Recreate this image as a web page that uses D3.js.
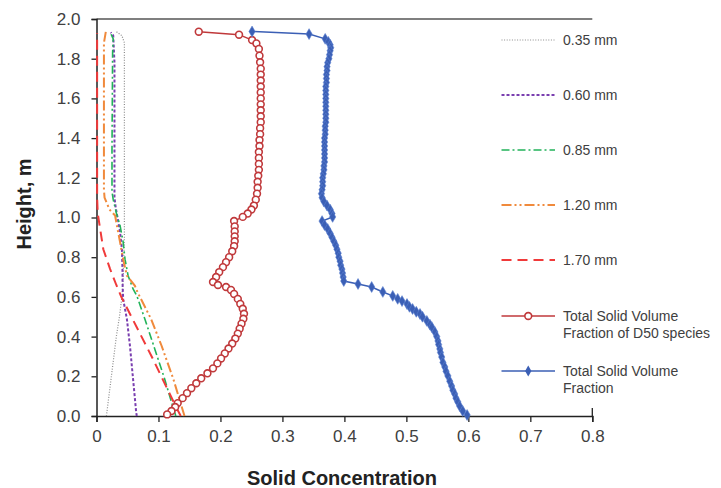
<!DOCTYPE html>
<html>
<head>
<meta charset="utf-8">
<script src="https://cdn.jsdelivr.net/npm/d3@7"></script>
<style>
  html, body { margin: 0; padding: 0; background: #fff; }
  svg { display: block; font-family: "Liberation Sans", Arial, sans-serif; }
</style>
</head>
<body>
<svg id="chart" width="721" height="488"></svg>
<script>
// Size-fraction profiles: height (m) and solid concentration
const h035 = [0.0, 0.1, 0.2, 0.3, 0.4, 0.5, 0.6, 0.7, 0.8, 0.9, 1.0, 1.4, 1.88, 1.916, 1.936];
const c035 = [0.016, 0.020, 0.024, 0.028, 0.032, 0.037, 0.041, 0.043, 0.044, 0.045, 0.045, 0.045, 0.045, 0.041, 0.032];

const h060 = [0.0, 0.02, 0.186, 0.353, 0.489, 0.589, 0.675, 0.725, 0.841, 0.927, 0.982, 1.05, 1.1, 1.33, 1.78, 1.916, 1.933];
const c060 = [0.065, 0.064, 0.059, 0.054, 0.049, 0.043, 0.042, 0.042, 0.041, 0.038, 0.035, 0.031, 0.029, 0.029, 0.029, 0.027, 0.023];

const h085 = [0.0, 0.07, 0.186, 0.338, 0.489, 0.606, 0.64, 0.707, 0.79, 0.876, 0.96, 1.01, 1.09, 1.13, 1.34, 1.83, 1.90, 1.933];
const c085 = [0.128, 0.121, 0.110, 0.094, 0.078, 0.065, 0.059, 0.051, 0.046, 0.043, 0.038, 0.033, 0.027, 0.025, 0.025, 0.026, 0.027, 0.022];

const h120 = [0.0, 0.186, 0.354, 0.489, 0.625, 0.656, 0.707, 0.79, 0.876, 0.958, 1.01, 1.04, 1.10, 1.14, 1.88, 1.935];
const c120 = [0.142, 0.124, 0.105, 0.088, 0.066, 0.062, 0.049, 0.043, 0.038, 0.033, 0.030, 0.021, 0.013, 0.012, 0.012, 0.015];

const h170 = [0.0, 0.035, 0.3, 0.6, 0.66, 0.74, 0.84, 0.94, 1.02, 1.1, 1.5, 1.93];
const c170 = [0.136, 0.130, 0.089, 0.040, 0.032, 0.022, 0.011, 0.006, 0.002, 0.001, 0.001, 0.001];

// Total solid volume fraction of D50 species
const hD50 = [1.936, 1.921, 1.894, 1.877, 1.849, 1.815, 1.782, 1.75, 1.72, 1.69, 1.66, 1.63, 1.60, 1.57, 1.54, 1.51, 1.48, 1.45, 1.42, 1.39, 1.36, 1.33, 1.30, 1.27, 1.24, 1.21, 1.18, 1.15, 1.12, 1.09, 1.06, 1.04, 1.02, 1.003, 0.982, 0.955, 0.93, 0.905, 0.88, 0.856, 0.83, 0.80, 0.775, 0.75, 0.725, 0.70, 0.675, 0.66, 0.65, 0.635, 0.615, 0.59, 0.565, 0.54, 0.515, 0.49, 0.465, 0.44, 0.415, 0.39, 0.365, 0.34, 0.315, 0.29, 0.265, 0.24, 0.215, 0.19, 0.165, 0.14, 0.115, 0.09, 0.065, 0.045, 0.025, 0.008];
const cD50 = [0.165, 0.230, 0.251, 0.258, 0.262, 0.263, 0.264, 0.265, 0.265, 0.265, 0.265, 0.265, 0.265, 0.265, 0.265, 0.265, 0.265, 0.264, 0.264, 0.263, 0.263, 0.262, 0.262, 0.262, 0.262, 0.261, 0.260, 0.260, 0.259, 0.257, 0.254, 0.250, 0.244, 0.236, 0.222, 0.223, 0.223, 0.223, 0.223, 0.222, 0.219, 0.214, 0.209, 0.204, 0.198, 0.193, 0.188, 0.196, 0.209, 0.217, 0.222, 0.228, 0.232, 0.236, 0.238, 0.237, 0.234, 0.231, 0.228, 0.224, 0.219, 0.213, 0.207, 0.201, 0.195, 0.188, 0.179, 0.169, 0.161, 0.153, 0.146, 0.139, 0.131, 0.127, 0.121, 0.114];

// Total solid volume fraction
const hTot = [1.937, 1.924, 1.90, 1.885, 1.87, 1.855, 1.84, 1.82, 1.80, 1.78, 1.76, 1.74, 1.72, 1.70, 1.68, 1.66, 1.64, 1.62, 1.60, 1.58, 1.56, 1.54, 1.52, 1.50, 1.48, 1.46, 1.44, 1.42, 1.40, 1.38, 1.36, 1.34, 1.32, 1.30, 1.28, 1.26, 1.24, 1.22, 1.20, 1.18, 1.16, 1.14, 1.12, 1.10, 1.08, 1.06, 1.04, 1.02, 1.003, 0.982, 0.962, 0.942, 0.92, 0.90, 0.88, 0.86, 0.84, 0.82, 0.80, 0.78, 0.76, 0.74, 0.72, 0.70, 0.68, 0.665, 0.65, 0.625, 0.605, 0.59, 0.579, 0.564, 0.55, 0.539, 0.525, 0.514, 0.50, 0.479, 0.46, 0.448, 0.423, 0.40, 0.378, 0.36, 0.338, 0.32, 0.297, 0.27, 0.247, 0.225, 0.202, 0.175, 0.151, 0.13, 0.111, 0.09, 0.071, 0.05, 0.025, 0.005];
const cTot = [0.251, 0.343, 0.369, 0.374, 0.377, 0.378, 0.377, 0.376, 0.375, 0.373, 0.372, 0.372, 0.371, 0.371, 0.371, 0.370, 0.370, 0.370, 0.370, 0.370, 0.370, 0.370, 0.370, 0.370, 0.370, 0.369, 0.369, 0.369, 0.368, 0.368, 0.368, 0.368, 0.368, 0.368, 0.368, 0.367, 0.367, 0.366, 0.365, 0.365, 0.365, 0.364, 0.363, 0.364, 0.367, 0.372, 0.377, 0.380, 0.381, 0.364, 0.368, 0.373, 0.377, 0.380, 0.383, 0.386, 0.388, 0.390, 0.391, 0.393, 0.394, 0.396, 0.397, 0.398, 0.399, 0.422, 0.444, 0.462, 0.478, 0.486, 0.493, 0.501, 0.505, 0.510, 0.516, 0.522, 0.526, 0.533, 0.538, 0.541, 0.546, 0.549, 0.551, 0.552, 0.554, 0.555, 0.557, 0.559, 0.562, 0.564, 0.567, 0.570, 0.573, 0.575, 0.578, 0.580, 0.583, 0.586, 0.591, 0.598];

const xTicks = [0, 0.1, 0.2, 0.3, 0.4, 0.5, 0.6, 0.7, 0.8];
const yTicks = [0.0, 0.2, 0.4, 0.6, 0.8, 1.0, 1.2, 1.4, 1.6, 1.8, 2.0];

const fractions = [
  { name: "0.35 mm", h: h035, c: c035, color: "#8c8c8c", width: 1.2, dash: "1,1.6" },
  { name: "0.60 mm", h: h060, c: c060, color: "#7a3fb0", width: 2, dash: "3,2" },
  { name: "0.85 mm", h: h085, c: c085, color: "#22b35a", width: 1.6, dash: "8,3,2,3" },
  { name: "1.20 mm", h: h120, c: c120, color: "#f08a3c", width: 2, dash: "10,3,2,3,2,3" },
  { name: "1.70 mm", h: h170, c: c170, color: "#f03a3a", width: 2, dash: "10,6" }
];

const svg = d3.select("#chart");
const x = d3.scaleLinear().domain([0, 0.8]).range([96.5, 592.3]);
const y = d3.scaleLinear().domain([0, 2]).range([416, 19]);

const pts = (hs, cs) => hs.map((h, i) => [cs[i], h]);
const line = d3.line().x(d => x(d[0])).y(d => y(d[1]));

// top frame line
svg.append("line")
  .attr("x1", x(0)).attr("x2", x(0.8))
  .attr("y1", y(2)).attr("y2", y(2))
  .attr("stroke", "#555").attr("stroke-width", 1.5);

// axes
const yAxis = svg.append("g")
  .attr("transform", `translate(${x(0)},0)`)
  .call(d3.axisLeft(y).tickValues(yTicks).tickFormat(d3.format(".1f")).tickSize(5).tickPadding(11));
const xAxis = svg.append("g")
  .attr("transform", `translate(0,${y(0)})`)
  .call(d3.axisBottom(x).tickValues(xTicks).tickFormat(d => d === 0 ? "0" : d3.format(".1f")(d)).tickSize(6).tickPadding(8));
[yAxis, xAxis].forEach(g => {
  g.select(".domain").attr("stroke", "#222").attr("stroke-width", 1.5);
  g.selectAll(".tick line").attr("stroke", "#222").attr("stroke-width", 1.3);
  g.selectAll(".tick text").attr("fill", "#404040").attr("font-size", 17)
    .attr("font-family", "Liberation Sans, Arial, sans-serif");
});
// closing tick at the end of the x axis crosses the axis line
svg.append("line")
  .attr("x1", x(0.8)).attr("x2", x(0.8))
  .attr("y1", y(0) - 8).attr("y2", y(0))
  .attr("stroke", "#222").attr("stroke-width", 1.3);

// axis titles
svg.append("text")
  .attr("x", 342).attr("y", 485)
  .attr("text-anchor", "middle")
  .attr("font-weight", "bold").attr("font-size", 20).attr("fill", "#222")
  .text("Solid Concentration");
svg.append("text")
  .attr("transform", "translate(31,204) rotate(-90)")
  .attr("text-anchor", "middle")
  .attr("font-weight", "bold").attr("font-size", 20).attr("fill", "#222")
  .text("Height, m");

// size-fraction lines
fractions.forEach(f => {
  svg.append("path")
    .datum(pts(f.h, f.c))
    .attr("d", line)
    .attr("fill", "none")
    .attr("stroke", f.color)
    .attr("stroke-width", f.width)
    .attr("stroke-dasharray", f.dash);
});

// D50 series
const redColor = "#c0393b";
const d50 = pts(hD50, cD50);
svg.append("path").datum(d50).attr("d", line)
  .attr("fill", "none").attr("stroke", redColor).attr("stroke-width", 1.5);
svg.append("g").selectAll("circle").data(d50).join("circle")
  .attr("cx", d => x(d[0])).attr("cy", d => y(d[1])).attr("r", 3.4)
  .attr("fill", "#fff").attr("stroke", redColor).attr("stroke-width", 1.6);

// total series
const blueColor = "#3b5fb5";
const tot = pts(hTot, cTot);
const diamond = d3.symbol().type(d3.symbolDiamond).size(34);
svg.append("path").datum(tot).attr("d", line)
  .attr("fill", "none").attr("stroke", blueColor).attr("stroke-width", 1.5);
svg.append("g").selectAll("path").data(tot).join("path")
  .attr("transform", d => `translate(${x(d[0])},${y(d[1])})`)
  .attr("d", diamond)
  .attr("fill", blueColor).attr("stroke", "#5b7fd0").attr("stroke-width", 0.6);

// legend
const legend = svg.append("g").attr("font-size", 14).attr("fill", "#404040");
const lx1 = 501.5, lx2 = 555, tx = 563;
fractions.forEach((f, i) => {
  const ly = 40 + i * 55;
  legend.append("line").attr("x1", lx1).attr("x2", lx2).attr("y1", ly).attr("y2", ly)
    .attr("stroke", f.color).attr("stroke-width", f.width).attr("stroke-dasharray", f.dash);
  legend.append("text").attr("x", tx).attr("y", ly).attr("dy", "0.35em").text(f.name);
});
const seriesLegend = [
  { lines: ["Total Solid Volume", "Fraction of D50 species"], color: redColor, marker: "circle" },
  { lines: ["Total Solid Volume", "Fraction"], color: blueColor, marker: "diamond" }
];
seriesLegend.forEach((s, i) => {
  const ly = 316 + i * 55;
  legend.append("line").attr("x1", lx1).attr("x2", lx2).attr("y1", ly).attr("y2", ly)
    .attr("stroke", s.color).attr("stroke-width", 1.5);
  if (s.marker === "circle") {
    legend.append("circle").attr("cx", (lx1 + lx2) / 2).attr("cy", ly).attr("r", 3.4)
      .attr("fill", "#fff").attr("stroke", s.color).attr("stroke-width", 1.6);
  } else {
    legend.append("path").attr("transform", `translate(${(lx1 + lx2) / 2},${ly})`)
      .attr("d", diamond).attr("fill", s.color);
  }
  s.lines.forEach((t, j) => {
    legend.append("text").attr("x", tx).attr("y", ly + j * 17).attr("dy", "0.35em").text(t);
  });
});
</script>
</body>
</html>
